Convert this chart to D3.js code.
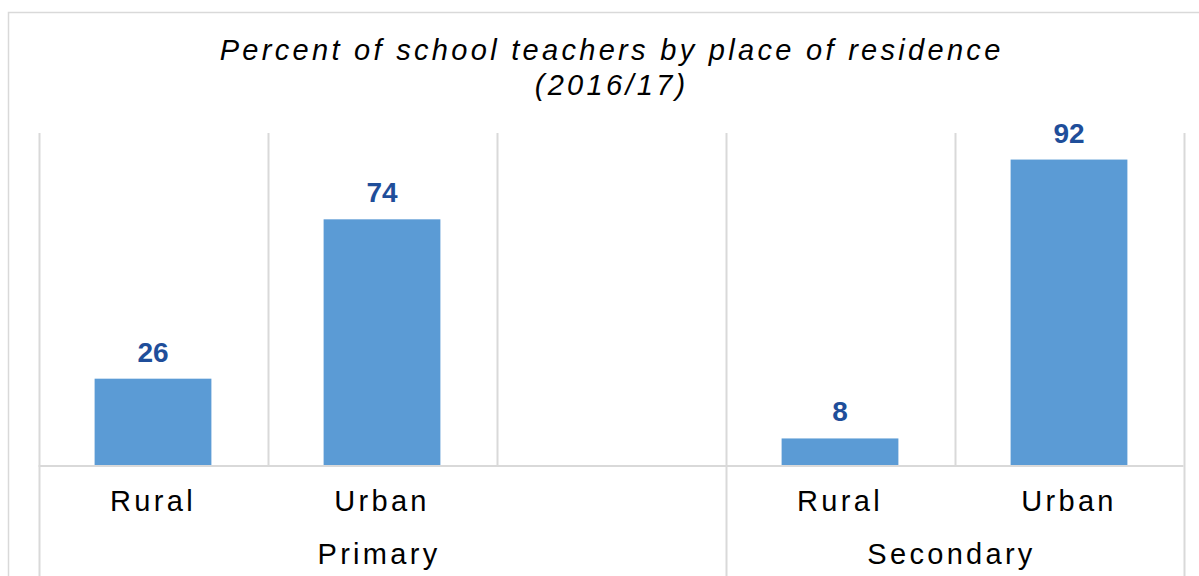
<!DOCTYPE html>
<html>
<head>
<meta charset="utf-8">
<script src="https://cdn.jsdelivr.net/npm/d3@7"></script>
<style>
  body { margin: 0; background: #fff; }
  svg { display: block; font-family: "Liberation Sans", Arial, sans-serif; }
</style>
</head>
<body>
<div id="chart"></div>
<script>
// Chart data
var groups = ["Primary", "Secondary"];
var groupSlots = [3, 2];                       // category slots per group
var categories = ["Rural", "Urban", "", "Rural", "Urban"];
var values = [26, 74, null, 8, 92];
var titleLines = ["Percent of school teachers by place of residence", "(2016/17)"];

var W = 1199, H = 576;
var plot = {left: 38.5, right: 1183.5, top: 133, bottom: 465};
var gridColor = "#d9d9d9",
    barColor = "#5b9bd5",
    labelColor = "#1f4e9a",
    spacing = 3.3;

var svg = d3.select("#chart").append("svg")
    .attr("width", W)
    .attr("height", H);

// chart border
svg.append("rect")
    .attr("x", 8.5).attr("y", 12.5)
    .attr("width", 1220).attr("height", 620)
    .attr("fill", "none")
    .attr("stroke", gridColor)
    .attr("stroke-width", 1.5);

var x = d3.scaleBand()
    .domain(d3.range(categories.length))
    .range([plot.left, plot.right])
    .padding(0);
var y = d3.scaleLinear().domain([0, 100]).range([plot.bottom, plot.top]);

var bw = x.bandwidth(),
    barW = bw * 0.51;

// group boundaries (slot index where each group starts/ends)
var bounds = [0];
groupSlots.forEach(function (n, i) { bounds.push(bounds[i] + n); });
function edge(i) { return i < categories.length ? x(i) : plot.right; }

// vertical gridlines
var edges = d3.range(categories.length + 1);
svg.append("g").selectAll("line")
  .data(edges)
  .join("line")
    .attr("x1", function (d) { return Math.round(edge(d)) + 0.5; })
    .attr("x2", function (d) { return Math.round(edge(d)) + 0.5; })
    .attr("y1", y(100))
    .attr("y2", function (d) { return bounds.indexOf(d) >= 0 ? H + 10 : y(0); })
    .attr("stroke", gridColor)
    .attr("stroke-width", 2);

// category axis line
svg.append("line")
    .attr("x1", plot.left).attr("x2", plot.right)
    .attr("y1", y(0) + 1).attr("y2", y(0) + 1)
    .attr("stroke", gridColor)
    .attr("stroke-width", 2);

// bars
var barData = values.map(function (v, i) { return {i: i, v: v}; })
    .filter(function (d) { return d.v != null; });

svg.append("g").selectAll("rect")
  .data(barData)
  .join("rect")
    .attr("x", function (d) { return x(d.i) + (bw - barW) / 2; })
    .attr("y", function (d) { return y(d.v); })
    .attr("width", barW)
    .attr("height", function (d) { return y(0) - y(d.v); })
    .attr("fill", barColor);

// data labels
svg.append("g").selectAll("text")
  .data(barData)
  .join("text")
    .attr("x", function (d) { return x(d.i) + bw / 2; })
    .attr("y", function (d) { return y(d.v) - 17; })
    .attr("text-anchor", "middle")
    .attr("font-size", 28)
    .attr("font-weight", "bold")
    .attr("fill", labelColor)
    .text(function (d) { return d.v; });

// category labels
svg.append("g").selectAll("text")
  .data(categories)
  .join("text")
    .attr("x", function (d, i) { return x(i) + bw / 2; })
    .attr("y", 511)
    .attr("text-anchor", "middle")
    .attr("font-size", 29)
    .attr("letter-spacing", spacing)
    .attr("fill", "#000")
    .text(function (d) { return d; });

// group labels
svg.append("g").selectAll("text")
  .data(groups)
  .join("text")
    .attr("x", function (d, i) { return (edge(bounds[i]) + edge(bounds[i + 1])) / 2 - 3; })
    .attr("y", 564)
    .attr("text-anchor", "middle")
    .attr("font-size", 29)
    .attr("letter-spacing", spacing)
    .attr("fill", "#000")
    .text(function (d) { return d; });

// title
svg.append("g").selectAll("text")
  .data(titleLines)
  .join("text")
    .attr("x", 610 + spacing / 2)
    .attr("y", function (d, i) { return 60 + i * 35; })
    .attr("text-anchor", "middle")
    .attr("font-size", 29)
    .attr("font-style", "italic")
    .attr("letter-spacing", spacing)
    .attr("fill", "#000")
    .text(function (d) { return d; });
</script>
</body>
</html>
